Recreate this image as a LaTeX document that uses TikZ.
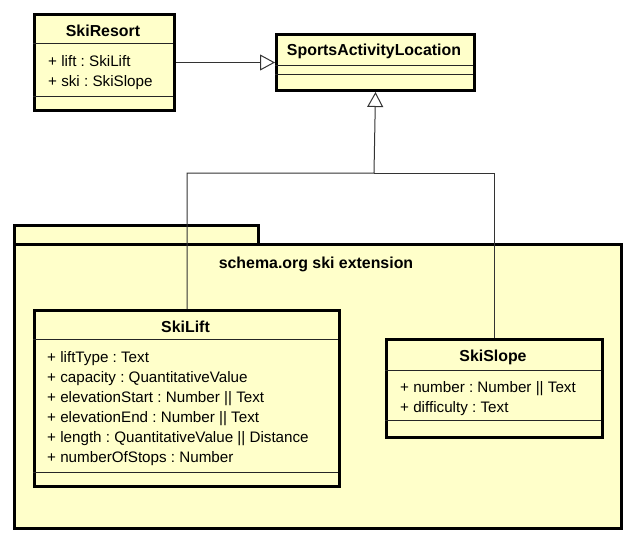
\documentclass[tikz,border=0pt]{standalone}
\usepackage{fontspec}
\setmainfont{Liberation Sans}
\usetikzlibrary{arrows.meta}
\definecolor{umlfill}{RGB}{255,255,202}
\frenchspacing
\begin{document}
\begin{tikzpicture}[x=1pt,y=-1pt,
  cls/.style={draw=black, line width=3pt, fill=umlfill, rectangle, inner sep=0pt, anchor=north west},
  pkg/.style={draw=black, line width=3pt, fill=umlfill, rectangle, inner sep=0pt, anchor=north west},
  ttl/.style={font=\bfseries\fontsize{15.9}{19}\selectfont\frenchspacing, inner sep=0pt, anchor=base},
  attr/.style={font=\fontsize{15.2}{18}\selectfont\frenchspacing, inner sep=0pt, anchor=base west},
  sep/.style={line width=1pt, draw=black!85},
  conn/.style={line width=1pt, draw=black!80},
  gen/.style={conn, -{Triangle[open, length=15pt, width=16pt, line width=1pt]}}
]
\useasboundingbox (0,0) rectangle (633,538);

% package
\node[pkg, minimum width=244pt, minimum height=19pt] (tab) at (13,224) {};
\node[pkg, minimum width=607pt, minimum height=284pt] (pk) at (13,243) {};
\node[ttl] (pkl) at (316,268) {schema.org ski extension};

% SkiResort
\node[cls, minimum width=140pt, minimum height=96pt] (resort) at (33,13) {};
\draw[sep] (33,43) -- (173,43);
\draw[sep] (33,96) -- (173,96);
\node[ttl] (resortT) at (103,36) {SkiResort};
\node[attr] (ra1) at (48,66) {+ lift : SkiLift};
\node[attr] (ra2) at (48,86) {+ ski : SkiSlope};

% SportsActivityLocation
\node[cls, minimum width=198pt, minimum height=56pt] (sal) at (275,33) {};
\draw[sep] (275,65) -- (473,65);
\draw[sep] (275,74) -- (473,74);
\node[ttl] (salT) at (374,56) {SportsActivityLocation};

% SkiLift
\node[cls, minimum width=305pt, minimum height=176pt] (lift) at (33,309) {};
\draw[sep] (33,339) -- (338,339);
\draw[sep] (33,472) -- (338,472);
\node[ttl] (liftT) at (185.5,332) {SkiLift};
\node[attr] (la1) at (47,362) {+ liftType : Text};
\node[attr] (la2) at (47,382) {+ capacity : QuantitativeValue};
\node[attr] (la3) at (47,402) {+ elevationStart : Number || Text};
\node[attr] (la4) at (47,422) {+ elevationEnd : Number || Text};
\node[attr] (la5) at (47,442) {+ length : QuantitativeValue || Distance};
\node[attr] (la6) at (47,462) {+ numberOfStops : Number};

% SkiSlope
\node[cls, minimum width=216pt, minimum height=98pt] (slope) at (385,338) {};
\draw[sep] (385,370) -- (601,370);
\draw[sep] (385,420) -- (601,420);
\node[ttl] (slopeT) at (493,361) {SkiSlope};
\node[attr] (sa1) at (400,392) {+ number : Number || Text};
\node[attr] (sa2) at (400,412) {+ difficulty : Text};

% connectors
\coordinate (jn) at (374,173);
\draw[gen] (resort.east) -- (sal.west);
\draw[conn] (slope.north) |- (jn);
\draw[gen] (lift.north) |- (jn) -- (sal.south);
\end{tikzpicture}
\end{document}
